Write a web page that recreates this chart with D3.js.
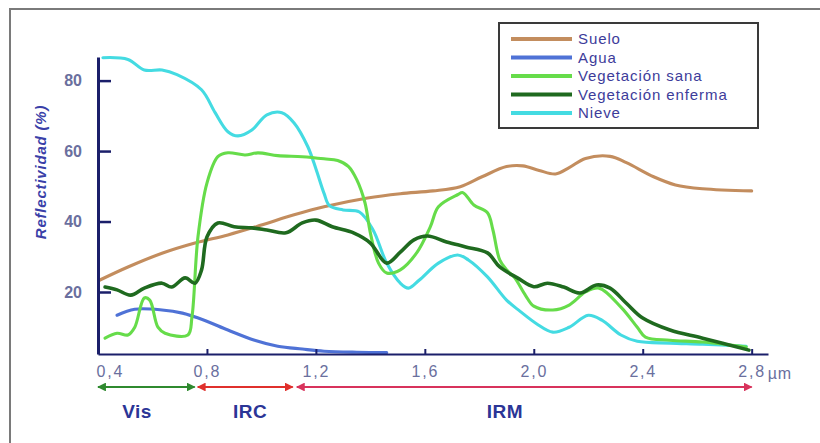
<!DOCTYPE html>
<html><head><meta charset="utf-8">
<script src="https://cdn.jsdelivr.net/npm/d3@7"></script>
<style>body{margin:0;background:#fff}svg{display:block}</style>
</head><body>
<svg id="c" width="820" height="443"></svg>
<script>
// ---- data ----
const seriesNames = ["Suelo","Agua","Vegetación sana","Vegetación enferma","Nieve"];
const seriesColors = ["#c38d5e","#4f72d6","#66dc4a","#1f6a1f","#44dbe2"];
const suelo = [[0.407,23.4],[0.51,27.1],[0.635,31],[0.756,33.9],[0.877,36.2],[1.0,39],[1.12,41.9],[1.23,44.2],[1.39,46.7],[1.51,47.9],[1.63,48.7],[1.73,49.9],[1.81,52.7],[1.9,55.6],[1.96,55.8],[2.02,54.5],[2.08,53.5],[2.13,55.3],[2.19,57.9],[2.28,58.5],[2.34,56.7],[2.44,52.7],[2.52,50.4],[2.62,49.3],[2.8,48.7]];
const agua = [[0.47,13.4],[0.535,15.1],[0.635,14.9],[0.71,14],[0.79,12],[0.877,9.2],[0.975,6.3],[1.06,4.6],[1.15,3.8],[1.23,3.2],[1.35,2.9],[1.46,2.8]];
const sana = [[0.426,6.9],[0.47,8.3],[0.51,7.8],[0.535,10],[0.57,18.3],[0.59,17.7],[0.62,10],[0.646,8.3],[0.73,7.8],[0.745,12.9],[0.767,35.6],[0.8,50.9],[0.84,58.4],[0.877,59.5],[0.94,58.9],[0.987,59.5],[1.06,58.7],[1.15,58.4],[1.23,57.8],[1.28,57.3],[1.32,55.6],[1.35,51.9],[1.38,45.4],[1.4,36.8],[1.43,28.2],[1.46,25.4],[1.51,26.3],[1.57,31.1],[1.62,38.5],[1.65,44.2],[1.72,47.6],[1.74,48.2],[1.78,44.7],[1.83,42.5],[1.85,37.6],[1.875,29.1],[1.9,26.3],[1.93,24],[1.97,19],[2.0,16],[2.07,14.9],[2.13,16.3],[2.19,20],[2.24,21.1],[2.32,15.7],[2.38,10],[2.41,7.2],[2.5,6.3],[2.62,5.8],[2.78,4.4]];
const enferma = [[0.426,21.4],[0.47,20.6],[0.52,19.1],[0.57,21.1],[0.635,22.5],[0.67,21.4],[0.72,24],[0.756,22.5],[0.78,26.2],[0.8,35.6],[0.84,39.6],[0.9,38.5],[0.965,38.2],[1.02,37.6],[1.09,36.8],[1.15,39.6],[1.2,40.4],[1.26,38.5],[1.34,36.7],[1.4,33.9],[1.46,28.2],[1.51,31.3],[1.56,34.8],[1.61,35.9],[1.68,34.2],[1.75,32.8],[1.83,31.1],[1.875,27.1],[1.94,24],[2.0,21.5],[2.05,22.5],[2.11,21.4],[2.17,19.7],[2.23,22],[2.28,21.1],[2.34,16.8],[2.4,12.6],[2.5,9.2],[2.62,6.9],[2.79,3.5]];
const nieve = [[0.418,86.5],[0.51,86],[0.57,83],[0.635,83],[0.69,81.7],[0.78,77.4],[0.83,70.9],[0.877,65.5],[0.914,64.3],[0.965,66],[1.02,70.3],[1.075,70.9],[1.12,68],[1.17,61.3],[1.2,55],[1.23,48],[1.25,44.5],[1.3,43.3],[1.36,42.7],[1.41,37.6],[1.46,28.2],[1.51,22.5],[1.54,21.1],[1.58,23.4],[1.65,28.2],[1.72,30.5],[1.76,29.1],[1.83,24.3],[1.9,17.7],[1.95,14.5],[2.01,11],[2.07,8.6],[2.13,10],[2.2,13.4],[2.25,12],[2.32,7.8],[2.38,6],[2.5,5.5],[2.62,5.2],[2.78,4.6]];
const xTicks = [0.4,0.8,1.2,1.6,2.0,2.4,2.8];
const yTicks = [20,40,60,80];
const bands = [
  {label:"Vis", from:0.4, to:0.755, color:"#2f8a2f"},
  {label:"IRC", from:0.766, to:1.115, color:"#e0302c"},
  {label:"IRM", from:1.13, to:2.8, color:"#d8335c"}
];
const allSeries = [suelo, agua, sana, enferma, nieve];
// draw order (bottom to top)
const drawOrder = [0,1,4,2,3];

// ---- chart ----
const svg = d3.select("#c");
const font = "'Liberation Sans', Arial, sans-serif";
const x = d3.scaleLinear().domain([0.4, 2.86]).range([98, 768]);
const y = d3.scaleLinear().domain([2.4, 86.7]).range([354, 57]);

// frame
svg.append("rect").attr("x",10).attr("y",9).attr("width",830).attr("height",460)
  .attr("fill","none").attr("stroke","#7a7a7a").attr("stroke-width",2);

// curves
const line = d3.line().x(d=>x(d[0])).y(d=>y(d[1])).curve(d3.curveCatmullRom.alpha(0.5));
drawOrder.forEach(i=>{
  svg.append("path").datum(allSeries[i]).attr("d",line)
    .attr("fill","none").attr("stroke",seriesColors[i])
    .attr("stroke-width", i===3?3.6:3.1).attr("stroke-linejoin","round").attr("stroke-linecap","round");
});

// axes
const fmt = d=>d3.format(".1f")(d).replace(".",",");
const gx = svg.append("g").attr("transform","translate(0,354)")
  .call(d3.axisBottom(x).tickValues(xTicks).tickFormat(fmt).tickSizeInner(-5).tickSizeOuter(0).tickPadding(12));
gx.select(".domain").attr("stroke","#1b1f6a").attr("stroke-width",2.2);
gx.selectAll(".tick line").attr("stroke","#1b1f6a").attr("stroke-width",2);
gx.selectAll(".tick text").attr("fill","#6a6f9e").style("font-family",font).style("font-size","16px").style("letter-spacing","1.8px");
gx.selectAll(".tick text").filter(d=>d===0.4).attr("text-anchor","start").attr("dx",-2);
svg.append("text").attr("x",x(2.8)+16).attr("y",379).text("µm")
  .attr("fill","#6a6f9e").style("font-family",font).style("font-size","16px").style("letter-spacing","0.8px");

const gy = svg.append("g").attr("transform","translate(98,0)")
  .call(d3.axisLeft(y).tickValues(yTicks).tickSizeInner(-13).tickSizeOuter(0).tickPadding(16));
gy.select(".domain").attr("stroke","#1b1f6a").attr("stroke-width",3);
gy.selectAll(".tick line").attr("stroke","#1b1f6a").attr("stroke-width",2.5);
gy.selectAll(".tick text").attr("fill","#6a6f9e").style("font-family",font).style("font-size","16px").style("font-weight","bold");

svg.append("text").attr("transform","translate(46,172) rotate(-90)")
  .attr("text-anchor","middle").text("Reflectividad (%)")
  .attr("fill","#3a3fa8").style("font-family",font).style("font-size","15px")
  .style("font-weight","bold").style("font-style","italic").style("letter-spacing","0.8px");

// band arrows
const defs = svg.append("defs");
bands.forEach((b,i)=>{
  ["s","e"].forEach(k=>{
    defs.append("marker").attr("id","m"+k+i).attr("viewBox","0 0 10 10")
      .attr("refX", k==="e"?9:1).attr("refY",5).attr("markerWidth",4).attr("markerHeight",4)
      .attr("orient","auto").attr("markerUnits","strokeWidth")
      .append("path").attr("d", k==="e"?"M0,0 L10,5 L0,10 Z":"M10,0 L0,5 L10,10 Z").attr("fill",b.color);
  });
  svg.append("line").attr("x1",x(b.from)).attr("x2",x(b.to)).attr("y1",387).attr("y2",387)
    .attr("stroke",b.color).attr("stroke-width",2.2)
    .attr("marker-start","url(#ms"+i+")").attr("marker-end","url(#me"+i+")");
});
const bandLabelX = {"Vis":137, "IRC":250, "IRM":505};
bands.forEach(b=>{
  svg.append("text").attr("x",bandLabelX[b.label]).attr("y",418).attr("text-anchor","middle")
    .text(b.label).attr("fill","#2b3596").style("font-family",font).style("font-size","19px")
    .style("font-weight","bold").style("letter-spacing","0.5px");
});

// legend
const lg = svg.append("g");
lg.append("rect").attr("x",499).attr("y",23).attr("width",259).attr("height",105)
  .attr("fill","#fff").attr("stroke","#3a3a3a").attr("stroke-width",2);
seriesNames.forEach((n,i)=>{
  const yy = 39 + i*18.5;
  lg.append("line").attr("x1",511).attr("x2",572).attr("y1",yy).attr("y2",yy)
    .attr("stroke",seriesColors[i]).attr("stroke-width",4);
  lg.append("text").attr("x",578).attr("y",yy+5).text(n)
    .attr("fill","#3d3c9a").style("font-family",font).style("font-size","15px").style("letter-spacing","0.9px");
});
</script>
</body></html>
